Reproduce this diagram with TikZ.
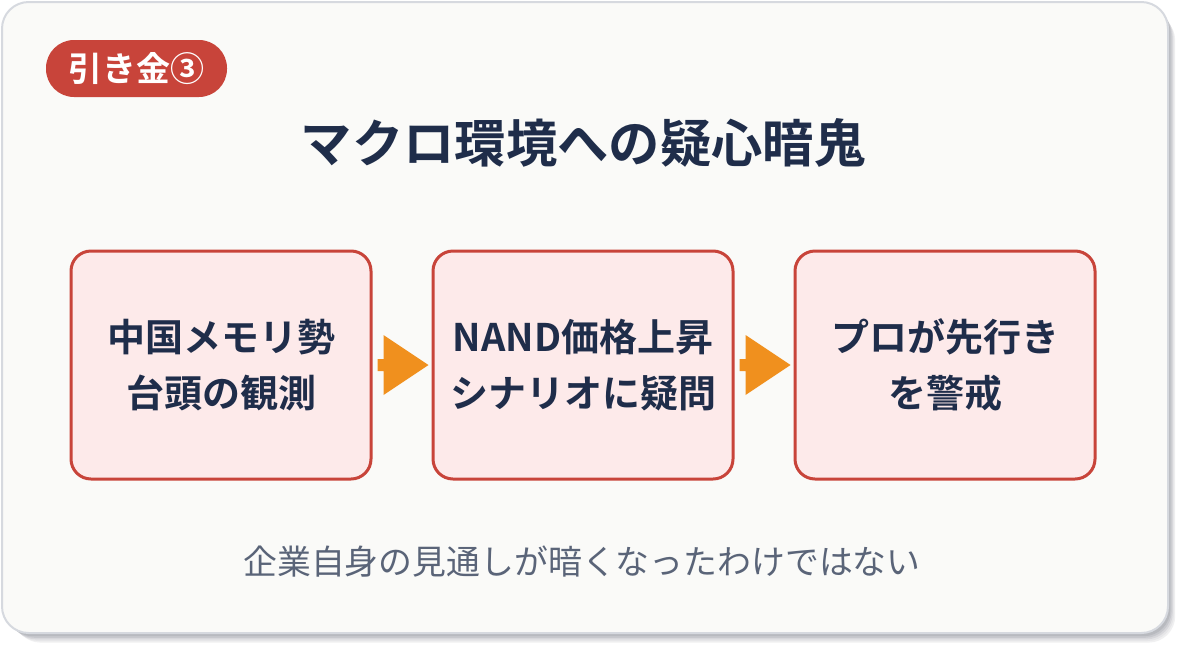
\documentclass[tikz,border=0pt]{standalone}
\usepackage{fontspec}
\setmainfont{Noto Sans CJK JP}
\newfontfamily\jpb{Noto Sans CJK JP Bold}
\newfontfamily\jpr{Noto Sans CJK JP}
\definecolor{cardbg}{HTML}{FAFAF8}
\definecolor{cardline}{HTML}{D6D9DF}
\definecolor{redc}{HTML}{C8443A}
\definecolor{boxfill}{HTML}{FDEAEA}
\definecolor{navy}{HTML}{1F2D4A}
\definecolor{orangec}{HTML}{F0901E}
\definecolor{graytxt}{HTML}{5A6478}
\definecolor{shadowc}{HTML}{9A9CA4}
\tikzset{
  stepbox/.style={draw=redc, line width=3pt*0.75, fill=boxfill, rounded corners=15pt, minimum width=300*0.75pt, minimum height=228*0.75pt, inner sep=0pt, align=center, text=navy, font=\jpb\fontsize{28.5}{42}\selectfont},
  flowarrow/.style={fill=orangec, draw=none},
}
\begin{document}
\begin{tikzpicture}[x=0.75pt,y=-0.75pt]
\useasboundingbox (0,0) rectangle (1180,650);
\fill[white] (0,0) rectangle (1180,650);
% shadow
\foreach \o/\c in {12/15,10/25,8/40,6/55,4/70}{
  \fill[shadowc!\c!white, rounded corners=20pt] (2+\o,2+\o) rectangle (1168+\o*0.6,633+\o*0.8);
}
\node[draw=cardline, line width=1.5pt, fill=cardbg, rounded corners=20pt, minimum width=1166*0.75pt, minimum height=631*0.75pt, inner sep=0pt] (card) at (585,317.5) {};
% badge
\node[fill=redc, rounded corners=21pt, minimum width=181*0.75pt, minimum height=57*0.75pt, inner sep=0pt, text=white, font=\jpb\fontsize{25.5}{28}\selectfont] (badge) at (136.5,68.5) {引き金③};
% title
\node[text=navy, font=\jpb\fontsize{38.5}{44}\selectfont, inner sep=0pt] (title) at (583,143) {マクロ環境への疑心暗鬼};
% boxes
\node[stepbox] (b1) at (221,365) {中国メモリ勢\\台頭の観測};
\node[stepbox] (b2) at (583,365) {NAND価格上昇\\シナリオに疑問};
\node[stepbox] (b3) at (945,365) {プロが先行き\\を警戒};
% arrows
\fill[flowarrow] ([xshift=3.75pt,yshift=4.5pt]b1.east) -- ++(6,0) -- ++(0,-24) -- ++(45,30) -- ++(-45,30) -- ++(0,-24) -- ++(-6,0) -- cycle;
\fill[flowarrow] ([xshift=3.75pt,yshift=4.5pt]b2.east) -- ++(6,0) -- ++(0,-24) -- ++(45,30) -- ++(-45,30) -- ++(0,-24) -- ++(-6,0) -- cycle;
% bottom text
\node[text=graytxt, font=\jpr\fontsize{25.4}{30}\selectfont, inner sep=0pt] (note) at (582,562) {企業自身の見通しが暗くなったわけではない};
\end{tikzpicture}
\end{document}
